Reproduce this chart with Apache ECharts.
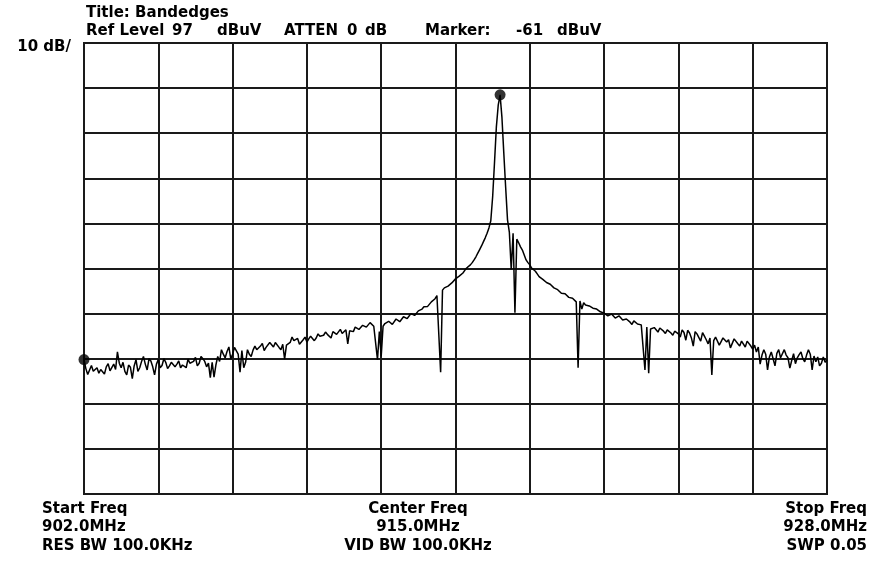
<!DOCTYPE html>
<html>
<head>
<meta charset="utf-8">
<title>Bandedges</title>
<script src="https://cdn.jsdelivr.net/npm/echarts@6/dist/echarts.min.js"></script>
<style>
  html, body { margin: 0; padding: 0; background: #fff; }
  #chart { width: 875px; height: 563px; }
</style>
</head>
<body>
<div id="chart"></div>
<script>
// sweep settings
var START_MHZ = 902.0;
var STOP_MHZ = 928.0;
var REF_LEVEL = 97;      // dBuV, top of the screen
var DB_PER_DIV = 10;
var DIVS = 10;

// trace level (dBuV) at each of the 401 sweep points
var levels = [
  26.8, 24.8, 23.5, 23.2, 25.5, 24.2, 24.0, 25.0, 23.8, 24.6,
  24.5, 23.6, 25.2, 25.9, 24.3, 24.0, 25.8, 24.6, 28.5, 26.0,
  25.0, 26.2, 24.2, 23.4, 25.6, 25.1, 22.6, 25.4, 26.8, 24.2,
  25.0, 26.4, 27.5, 25.8, 24.5, 27.0, 26.5, 25.2, 23.4, 25.8,
  26.8, 25.0, 25.5, 27.0, 26.2, 24.8, 25.4, 26.2, 26.6, 25.2,
  25.8, 26.5, 25.0, 25.6, 26.0, 25.0, 26.9, 26.0, 25.6, 26.4,
  27.3, 25.4, 26.0, 27.5, 27.0, 26.4, 25.2, 26.0, 22.8, 26.2,
  22.9, 25.6, 27.5, 26.4, 29.0, 28.0, 27.2, 28.6, 29.6, 27.0,
  28.0, 29.5, 29.3, 28.0, 24.0, 28.8, 25.0, 26.2, 29.0, 28.0,
  27.5, 28.9, 29.8, 29.0, 28.6, 29.8, 30.4, 28.8, 29.5, 29.9,
  30.6, 30.8, 29.6, 30.6, 30.3, 29.5, 29.0, 30.2, 26.9, 30.0,
  30.2, 30.6, 31.8, 31.0, 30.9, 31.5, 30.2, 30.6, 31.2, 31.8,
  30.7, 31.4, 32.0, 32.4, 31.0, 31.6, 32.5, 32.0, 31.6, 32.2,
  32.9, 32.4, 32.0, 31.6, 33.0, 33.3, 32.4, 32.6, 33.5, 32.6,
  33.0, 33.4, 30.3, 33.2, 33.6, 33.0, 34.0, 34.3, 33.5, 33.8,
  34.4, 34.6, 34.0, 34.3, 35.0, 34.6, 34.2, 34.5, 26.8, 33.0,
  27.5, 34.2, 34.8, 34.4, 35.3, 35.6, 34.6, 35.0, 35.8, 36.0,
  35.2, 35.6, 36.3, 36.6, 35.9, 36.2, 37.0, 37.4, 36.6, 37.0,
  37.6, 37.4, 38.0, 38.5, 38.8, 38.6, 39.0, 39.6, 40.0, 40.3,
  41.0, 41.3, 24.0, 42.2, 42.7, 42.9, 43.1, 43.5, 43.8, 44.2,
  44.7, 45.0, 45.3, 45.6, 46.0, 46.6, 47.1, 47.4, 47.8, 48.3,
  48.9, 49.6, 50.4, 51.2, 52.0, 52.9, 53.8, 54.8, 56.0, 57.6,
  62.9, 70.5, 78.4, 83.2, 85.5, 80.5, 72.6, 65.0, 57.8, 55.0,
  46.8, 54.8, 37.2, 53.5, 52.7, 51.8, 51.1, 50.0, 48.9, 48.3,
  47.8, 47.1, 46.7, 46.4, 45.8, 45.2, 44.9, 44.6, 44.2, 43.9,
  43.8, 43.5, 43.1, 42.7, 42.5, 42.3, 42.0, 41.5, 41.3, 41.4,
  41.1, 40.6, 40.5, 40.4, 40.0, 39.6, 25.0, 39.8, 38.0, 39.4,
  38.9, 38.6, 38.7, 38.6, 38.2, 37.8, 38.0, 37.9, 37.4, 37.0,
  37.1, 37.3, 36.5, 36.1, 36.9, 36.8, 36.0, 35.7, 36.5, 36.4,
  35.6, 35.2, 35.8, 35.9, 35.1, 34.6, 35.4, 35.2, 34.7, 34.8,
  34.5, 34.2, 24.5, 34.0, 23.8, 33.6, 34.0, 33.9, 33.4, 32.9,
  33.8, 33.6, 33.1, 32.6, 33.4, 33.2, 32.7, 32.2, 33.1, 33.5,
  32.5, 31.8, 33.4, 32.8, 31.1, 33.3, 32.7, 31.6, 29.8, 33.0,
  32.5, 32.2, 30.9, 32.8, 32.0, 31.2, 30.3, 31.6, 23.4, 31.0,
  31.8, 31.9, 30.0, 30.8, 31.6, 31.9, 30.7, 31.2, 29.4, 30.4,
  31.4, 31.5, 30.3, 29.8, 30.9, 30.6, 29.6, 30.9, 30.5, 29.8,
  29.1, 30.0, 28.5, 29.6, 25.8, 27.8, 29.0, 28.0, 24.5, 27.4,
  28.5, 27.0, 25.4, 28.2, 29.0, 27.2, 26.8, 29.0, 27.8, 27.2,
  24.9, 26.6, 28.1, 25.9, 27.2, 27.9, 28.5, 27.0, 26.3, 27.8,
  29.0, 28.0, 24.5, 27.6, 26.3, 27.4, 25.4, 26.0, 27.4, 26.2,
  26.8
];

// sweep points that carry a marker dot
var markerIdx = [0, 224];

// screen annotations
var titleText = 'Title: Bandedges';
var headerWords = ['Ref Level', '97', 'dBuV', 'ATTEN', '0', 'dB', 'Marker:', '-61', 'dBuV'];
var headerX = [86, 172, 217, 284, 347, 365, 425, 516, 557];
var scaleText = '10 dB/';
var leftFooter = ['Start Freq', '902.0MHz', 'RES BW 100.0KHz'];
var centerFooter = ['Center Freq', '915.0MHz', 'VID BW 100.0KHz'];
var rightFooter = ['Stop Freq', '928.0MHz', 'SWP 0.05'];

var FONT = '"DejaVu Sans", "Liberation Sans", sans-serif';
var step = (STOP_MHZ - START_MHZ) / (levels.length - 1);

var trace = [];
for (var i = 0; i < levels.length; i++) {
    trace.push([START_MHZ + i * step, levels[i]]);
}
var dots = [];
for (var j = 0; j < markerIdx.length; j++) {
    dots.push(trace[markerIdx[j]]);
}

function txt(x, y, s, align) {
    return {
        type: 'text',
        x: x,
        y: y,
        style: {
            text: s,
            fill: '#000',
            font: 'bold 15px ' + FONT,
            textAlign: align || 'left',
            textVerticalAlign: 'middle'
        }
    };
}

var graphics = [txt(86, 13, titleText), txt(71, 47, scaleText, 'right')];
for (var k = 0; k < headerWords.length; k++) {
    graphics.push(txt(headerX[k], 31, headerWords[k]));
}
var footY = [509, 527, 546];
for (var m = 0; m < 3; m++) {
    graphics.push(txt(42, footY[m], leftFooter[m]));
    graphics.push(txt(418, footY[m], centerFooter[m], 'center'));
    graphics.push(txt(867, footY[m], rightFooter[m], 'right'));
}

var myChart = echarts.init(document.getElementById('chart'), null, { renderer: 'canvas' });
var gridLine = { show: true, lineStyle: { color: '#1a1a1a', width: 2 } };

myChart.setOption({
    animation: false,
    backgroundColor: '#fff',
    grid: {
        left: 84, top: 43, width: 743, height: 451,
        show: true, borderColor: '#1a1a1a', borderWidth: 2, backgroundColor: '#fff'
    },
    xAxis: {
        type: 'value',
        min: START_MHZ,
        max: STOP_MHZ,
        interval: (STOP_MHZ - START_MHZ) / DIVS,
        axisLine: { show: false },
        axisTick: { show: false },
        axisLabel: { show: false },
        splitLine: gridLine
    },
    yAxis: {
        type: 'value',
        min: REF_LEVEL - DB_PER_DIV * DIVS,
        max: REF_LEVEL,
        interval: DB_PER_DIV,
        axisLine: { show: false },
        axisTick: { show: false },
        axisLabel: { show: false },
        splitLine: gridLine
    },
    series: [{
        name: 'trace',
        type: 'line',
        data: trace,
        showSymbol: false,
        lineStyle: { color: '#000', width: 1.5 },
        z: 3
    }, {
        name: 'markers',
        type: 'scatter',
        data: dots,
        symbol: 'circle',
        symbolSize: 11,
        itemStyle: { color: '#000' },
        z: 4
    }],
    graphic: graphics
});
</script>
</body>
</html>
